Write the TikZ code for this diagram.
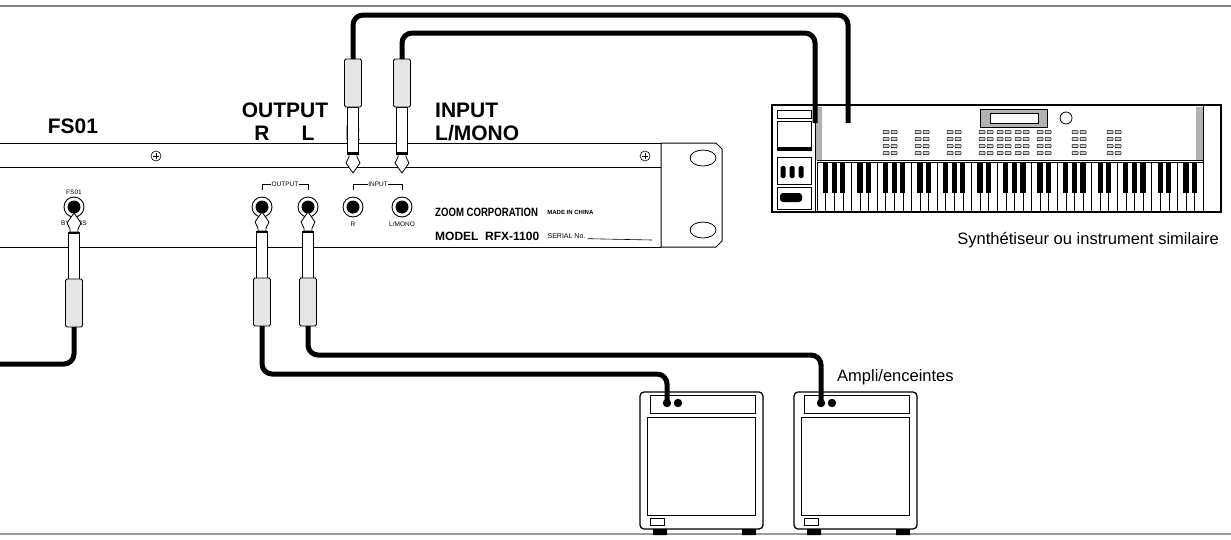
\documentclass[tikz,border=0pt]{standalone}
\usepackage{fontspec}
\setmainfont{Liberation Sans}
\usetikzlibrary{positioning}

\tikzset{
  cable/.style    = {line width=5pt, rounded corners=10pt},
  panelline/.style= {line width=1pt},
  biglabel/.style = {font=\fontsize{21}{21}\selectfont\bfseries, anchor=base, inner sep=0pt},
  tinylabel/.style= {font=\fontsize{6.5}{6.5}\selectfont, inner sep=0.5pt},
  caption/.style  = {font=\fontsize{16.5}{17}\selectfont, inner sep=0pt},
  jackhole/.style = {circle, draw, line width=0.9pt, minimum size=20pt, inner sep=0pt},
  keybtn/.style   = {draw, line width=0.5pt, fill=gray!40, rounded corners=0.5pt},
  pics/plug/.style = {code={
    \draw[line width=0.8pt, fill=white] (0,0) -- (7,10) -- (4,16) -- (4,19) -- (-4,19) -- (-4,16) -- (-7,10) -- cycle;
    \draw[line width=0.8pt, fill=white] (-5.5,19) rectangle (5.5,66);
    \draw[line width=2.2pt] (-5.5,20) -- (5.5,20);
    \draw[line width=0.8pt, fill=gray!20, rounded corners=1.5pt] (-8.5,66) rectangle (8.5,114);
  }},
  pics/amp/.style = {code={
    \draw[line width=1.3pt, rounded corners=4pt, fill=white] (0,0) rectangle (123,137);
    \draw[line width=1pt] (10,3) rectangle (115,21);
    \draw[line width=1pt] (7,25) rectangle (115,123);
    \draw[line width=0.8pt] (10,126) rectangle (24,133);
    \fill (13,137) rectangle (27,143) (102,137) rectangle (116,143);
    \fill (27,11) circle (4.2pt) (38,11) circle (4.2pt);
  }},
  pics/screw/.style = {code={
    \draw[line width=0.6pt] (0,0) circle (5pt);
    \draw[line width=0.6pt] (-3,0) -- (3,0) (0,-3) -- (0,3);
  }}
}

\begin{document}
\begin{tikzpicture}[x=1pt, y=-1pt]
\useasboundingbox (0,0) rectangle (1231,539);
\draw[gray, line width=1.2pt] (0,6) -- (1231,6);
\draw[gray!80, line width=2pt] (0,534) -- (1231,534);

% rack unit
\draw[panelline] (0,143) -- (661,143) (0,167) -- (661,167) (0,247) -- (661,247);
\draw[panelline] (661,143) -- (716,143) -- (722,149) -- (722,241) -- (716,247) -- (661,247) -- cycle;
\draw[line width=0.8pt] (703,158) ellipse (13pt and 8pt) (703,230) ellipse (13pt and 8pt);
\pic at (156,156) {screw};
\pic at (645,156) {screw};

% jacks
\foreach \name/\x in {fs/74, outr/262, outl/308, inr/353, inl/402}{
  \node[jackhole] (\name) at (\x,207) {};
  \fill (\x,207) circle (6.5pt);
}
\node[tinylabel, above=1pt of fs] {FS01};
\node[tinylabel, below=3pt of fs] {BYPASS};
\node[tinylabel, below=4pt of inr] {R};
\node[tinylabel, below=4pt of inl] {L/MONO};
\node[tinylabel] (outbox) at (285,184) {OUTPUT};
\draw[line width=0.7pt] (262,190) |- (outbox.west) (outbox.east) -| (308,190);
\node[tinylabel] (inbox) at (378,184) {INPUT};
\draw[line width=0.7pt] (353,190) |- (inbox.west) (inbox.east) -| (402,190);

\node[anchor=west, inner sep=0pt, font=\fontsize{12}{12}\selectfont\bfseries] (maker) at (435,212) {\scalebox{0.8}[1]{ZOOM CORPORATION}};
\node[anchor=west, inner sep=0pt, font=\fontsize{6}{6}\selectfont\bfseries, right=9pt of maker] {MADE IN CHINA};
\node[anchor=west, inner sep=0pt, font=\fontsize{12}{12}\selectfont\bfseries] (model) at (435,236) {MODEL\ \ RFX-1100};
\node[anchor=west, inner sep=0pt, font=\fontsize{7}{7}\selectfont, right=8pt of model] (serial) {SERIAL No.};
\draw[line width=0.6pt] (serial.south east) ++(2,0) -- (652,240);

% big labels
\node[biglabel] (fslbl) at (73,133) {FS01};
\node[biglabel] (outlbl) at (285,117) {OUTPUT};
\node[biglabel] at (262,140) {R};
\node[biglabel] at (308,140) {L};
\node[biglabel] at (353,140) {R};
\node[biglabel, anchor=base west] (inlbl) at (435,117) {INPUT};
\node[biglabel, anchor=base west] at (435,140) {L/MONO};

% keyboard
\draw[line width=1.3pt, fill=white] (772,105) rectangle (1221,212);
\draw[line width=0.8pt] (777,110) rectangle (811,118) (777,121) rectangle (811,150);
\fill (777,147) rectangle (811,151);
\draw[line width=0.8pt] (777,157) rectangle (811,184) (777,187) rectangle (811,209);
\foreach \k in {783,792,801}{ \fill[rounded corners=1.5pt] (\k-2.5,166) rectangle (\k+2.5,178); }
\fill[rounded corners=3pt] (780,193) rectangle (802,202);
\fill[gray!60] (815,107) rectangle (822,160) (1196,107) rectangle (1203,160);
\draw[line width=0.8pt] (815,105) -- (815,212) (1203,105) -- (1203,212);
\draw[line width=1pt] (817,160) -- (1203,160) (817,162) -- (1203,162);
\draw[line width=1pt, fill=gray!60] (980,109) rectangle (1047,127);
\draw[line width=0.6pt, fill=white] (990,113) rectangle (1038,123);
\draw[line width=0.8pt] (1066,118) circle (6pt);
\foreach \bx in {886,918,950,982,1000,1018,1040,1075,1110}{
  \foreach \by in {132,139,146,153}{
    \node[keybtn, minimum width=6pt, minimum height=3pt, inner sep=0pt] at (\bx,\by) {};
    \node[keybtn, minimum width=6pt, minimum height=3pt, inner sep=0pt] at (\bx+8,\by) {};
  }
}
\foreach \i in {0,...,44}{
  \draw[line width=0.5pt] (817+\i*8.58,162) rectangle (817+\i*8.58+8.58,212);
}
\foreach \i in {0,...,43}{
  \pgfmathtruncatemacro{\m}{mod(\i,7)}
  \ifnum\m=3 \else\ifnum\m=6 \else
    \fill (817+\i*8.58+8.58-2.6,162) rectangle (817+\i*8.58+8.58+2.6,193);
  \fi\fi
}
\coordinate (kbdA) at (848,123);
\coordinate (kbdB) at (815,123);
\node[caption, anchor=east] at (1219,240) {Synthétiseur ou instrument similaire};

% amps
\pic at (640,392) {amp};
\pic at (794,392) {amp};
\coordinate (amp1) at (667,403);
\coordinate (amp2) at (821,403);
\node[caption, anchor=west] at (837,377) {Ampli/enceintes};

% plugs
\pic[yscale=-1] at (353,173) {plug};
\pic[yscale=-1] at (402,173) {plug};
\pic at (262,212) {plug};
\pic at (308,212) {plug};
\pic at (74,213) {plug};
\coordinate (plugInR) at (353,59);
\coordinate (plugInL) at (402,59);
\coordinate (plugOutR) at (262,326);
\coordinate (plugOutL) at (308,326);
\coordinate (plugFs) at (74,327);
\coordinate (pedal) at (0,364);

% cables
\draw[cable] (plugInR) -- (plugInR |- 0,15) -| (kbdA);
\draw[cable] (plugInL) -- (plugInL |- 0,33) -| (kbdB);
\draw[cable] (plugOutR) |- (600,374) -| (amp1);
\draw[cable] (plugOutL) |- (700,355) -| (amp2);
\draw[cable] (plugFs) |- (pedal);
\end{tikzpicture}
\end{document}
